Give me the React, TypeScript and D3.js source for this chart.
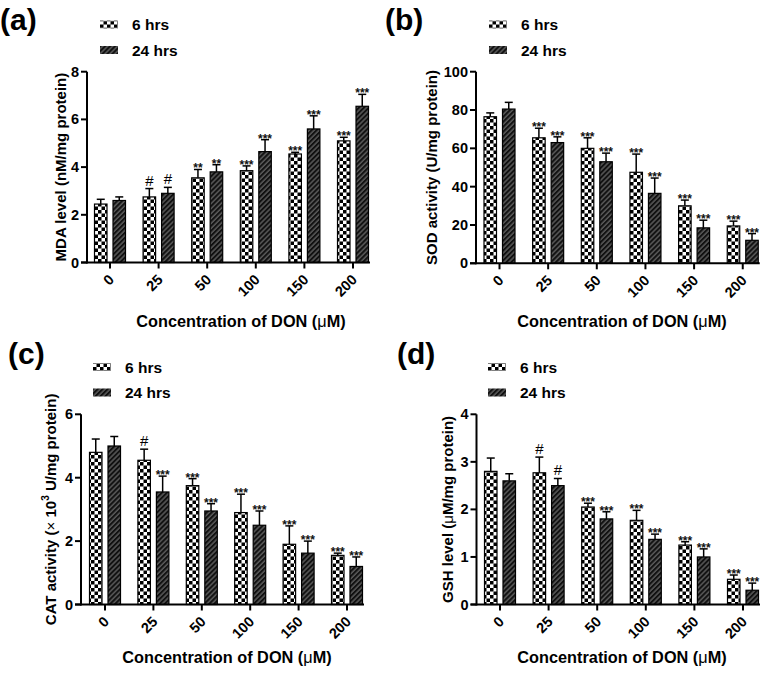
import React from "react";
import * as d3 from "d3";

const categories = ["0", "25", "50", "100", "150", "200"];
const seriesNames = ["6 hrs", "24 hrs"];

// (a) MDA
const mda6 = [2.45, 2.75, 3.55, 3.85, 4.55, 5.1];
const mda6Sd = [0.2, 0.35, 0.35, 0.2, 0.07, 0.15];
const mda24 = [2.6, 2.9, 3.8, 4.65, 5.6, 6.55];
const mda24Sd = [0.15, 0.25, 0.3, 0.5, 0.55, 0.5];
const mda6Sig = ["", "#", "**", "***", "***", "***"];
const mda24Sig = ["", "#", "**", "***", "***", "***"];
const mdaTicks = [0, 2, 4, 6, 8];

// (b) SOD
const sod6 = [76.5, 65.5, 60, 47.5, 30, 19.5];
const sod6Sd = [2, 5, 5.5, 9.5, 3, 2.5];
const sod24 = [80.5, 63, 53, 36.5, 18.5, 12];
const sod24Sd = [3.5, 3, 4.5, 8, 4, 3.5];
const sod6Sig = ["", "***", "***", "***", "***", "***"];
const sod24Sig = ["", "***", "***", "***", "***", "***"];
const sodTicks = [0, 20, 40, 60, 80, 100];

// (c) CAT
const cat6 = [4.8, 4.55, 3.75, 2.9, 1.9, 1.55];
const cat6Sd = [0.42, 0.35, 0.22, 0.58, 0.58, 0.07];
const cat24 = [5.0, 3.55, 2.95, 2.5, 1.62, 1.2];
const cat24Sd = [0.3, 0.5, 0.23, 0.45, 0.38, 0.3];
const cat6Sig = ["", "#", "***", "***", "***", "***"];
const cat24Sig = ["", "***", "***", "***", "***", "***"];
const catTicks = [0, 2, 4, 6];

// (d) GSH
const gsh6 = [2.8, 2.77, 2.05, 1.77, 1.25, 0.53];
const gsh6Sd = [0.28, 0.33, 0.08, 0.21, 0.07, 0.09];
const gsh24 = [2.6, 2.5, 1.8, 1.37, 1.0, 0.3];
const gsh24Sd = [0.15, 0.15, 0.15, 0.11, 0.17, 0.15];
const gsh6Sig = ["", "#", "***", "***", "***", "***"];
const gsh24Sig = ["", "#", "***", "***", "***", "***"];
const gshTicks = [0, 1, 2, 3, 4];

const FONT = "'Liberation Sans', Arial, sans-serif";

type PanelProps = {
  label: string;
  yTitle: React.ReactNode;
  ticks: number[];
  v6: number[];
  sd6: number[];
  v24: number[];
  sd24: number[];
  sig6: string[];
  sig24: string[];
  layout: {
    axisLeft: number;
    center0: number;
    step: number;
    yTop: number;
    yBottom: number;
    yTitleX: number;
    labelX: number;
    labelY: number;
    legendX: number;
    legendY: number;
    xTitleY: number;
    xTitleX: number;
  };
};

function Panel(p: PanelProps) {
  const L = p.layout;
  const x = d3
    .scalePoint<string>()
    .domain(categories)
    .range([L.center0, L.center0 + L.step * (categories.length - 1)]);
  const yMax = p.ticks[p.ticks.length - 1];
  const y = d3.scaleLinear().domain([0, yMax]).range([L.yBottom, L.yTop]);
  const axisRight = L.center0 + L.step * (categories.length - 1) + 17;
  const barW = 12.5;
  const gap = 3;
  const series = [
    { v: p.v6, sd: p.sd6, sig: p.sig6, fill: "url(#checker)", off: -gap - barW },
    { v: p.v24, sd: p.sd24, sig: p.sig24, fill: "url(#hatch)", off: gap },
  ];
  return (
    <g>
      <text x={L.labelX} y={L.labelY} fontFamily={FONT} fontWeight="bold" fontSize={30}>
        {p.label}
      </text>
      {/* legend */}
      {seriesNames.map((n, i) => (
        <g key={n} transform={`translate(${L.legendX},${L.legendY + i * 25.5})`}>
          <rect x={0} y={-4} width={18} height={8} fill={i === 0 ? "url(#checker)" : "url(#hatch)"} />
          <text x={32} y={5.5} fontFamily={FONT} fontWeight="bold" fontSize={15.5}>
            {n}
          </text>
        </g>
      ))}
      {/* bars */}
      {series.map((s, si) =>
        categories.map((c, i) => {
          const cx = (x(c) as number) + s.off;
          const top = y(s.v[i]);
          const et = y(s.v[i] + s.sd[i]);
          const mid = cx + barW / 2;
          const sig = s.sig[i];
          return (
            <g key={`${si}-${c}`}>
              <line x1={mid} x2={mid} y1={top} y2={et} stroke="#000" strokeWidth={1.5} />
              <line x1={mid - 4} x2={mid + 4} y1={et} y2={et} stroke="#000" strokeWidth={1.5} />
              <rect
                x={cx}
                y={top}
                width={barW}
                height={L.yBottom - top}
                fill={s.fill}
                stroke="#000"
                strokeWidth={1.2}
              />
              {sig === "#" ? (
                <text x={mid} y={et - 3} textAnchor="middle" fontFamily={FONT} fontSize={15}>
                  #
                </text>
              ) : sig ? (
                <text
                  x={mid}
                  y={et - 2 + 5}
                  textAnchor="middle"
                  fontFamily={FONT}
                  fontWeight="bold"
                  fill="#111"
                  fontSize={12}
                >
                  {sig}
                </text>
              ) : null}
            </g>
          );
        })
      )}
      {/* y axis */}
      <line x1={L.axisLeft} x2={L.axisLeft} y1={L.yTop} y2={L.yBottom + 1} stroke="#000" strokeWidth={2} />
      {p.ticks.map((t) => (
        <g key={t}>
          <line x1={L.axisLeft - 6} x2={L.axisLeft} y1={y(t)} y2={y(t)} stroke="#000" strokeWidth={2} />
          <text
            x={L.axisLeft - 8}
            y={y(t) + 5}
            textAnchor="end"
            fontFamily={FONT}
            fontWeight="bold"
            fontSize={14.5}
          >
            {t}
          </text>
        </g>
      ))}
      {/* x axis */}
      <line x1={L.axisLeft - 6} x2={axisRight} y1={L.yBottom} y2={L.yBottom} stroke="#000" strokeWidth={2} />
      {categories.map((c) => {
        const cx = x(c) as number;
        return (
          <g key={c}>
            <line x1={cx} x2={cx} y1={L.yBottom} y2={L.yBottom + 6} stroke="#000" strokeWidth={2} />
            <text
              transform={`translate(${cx + 5},${L.yBottom + 18}) rotate(-45)`}
              textAnchor="end"
              fontFamily={FONT}
              fontWeight="bold"
              fontSize={14.5}
            >
              {c}
            </text>
          </g>
        );
      })}
      <text x={L.xTitleX} y={L.xTitleY} textAnchor="middle" fontFamily={FONT} fontWeight="bold" fontSize={16.3}>
        Concentration of DON (
        <tspan fontWeight="normal">μ</tspan>M)
      </text>
      <text
        transform={`translate(${L.yTitleX},${(L.yTop + L.yBottom) / 2}) rotate(-90)`}
        textAnchor="middle"
        dominantBaseline="middle"
        fontFamily={FONT}
        fontWeight="bold"
        fontSize={15}
      >
        {p.yTitle}
      </text>
    </g>
  );
}

export default function App() {
  return (
    <svg width={767} height={673} style={{ position: "absolute", left: 0, top: 0, background: "#fff" }}>
      <defs>
        <pattern id="checker" patternUnits="userSpaceOnUse" width={7} height={7}>
          <rect width={7} height={7} fill="#fff" />
          <rect x={0} y={0} width={3.5} height={3.5} fill="#000" />
          <rect x={3.5} y={3.5} width={3.5} height={3.5} fill="#000" />
        </pattern>
        <pattern
          id="hatch"
          patternUnits="userSpaceOnUse"
          width={3.5}
          height={3.5}
          patternTransform="rotate(45)"
        >
          <rect width={3.5} height={3.5} fill="#5a5a5a" />
          <rect x={0} y={0} width={2} height={3.5} fill="#111" />
        </pattern>
      </defs>
      <rect width={767} height={673} fill="#fff" />
      <Panel
        label="(a)"
        yTitle="MDA level (nM/mg protein)"
        ticks={mdaTicks}
        v6={mda6}
        sd6={mda6Sd}
        v24={mda24}
        sd24={mda24Sd}
        sig6={mda6Sig}
        sig24={mda24Sig}
        layout={{
          axisLeft: 87, center0: 110, step: 48.6, yTop: 71.7, yBottom: 262.5,
          yTitleX: 62, labelX: 0, labelY: 30, legendX: 100, legendY: 24.5,
          xTitleY: 327, xTitleX: 241,
        }}
      />
      <Panel
        label="(b)"
        yTitle="SOD activity (U/mg protein)"
        ticks={sodTicks}
        v6={sod6}
        sd6={sod6Sd}
        v24={sod24}
        sd24={sod24Sd}
        sig6={sod6Sig}
        sig24={sod24Sig}
        layout={{
          axisLeft: 476, center0: 499.5, step: 48.65, yTop: 71.7, yBottom: 263.3,
          yTitleX: 433, labelX: 385, labelY: 30, legendX: 489, legendY: 24.5,
          xTitleY: 327, xTitleX: 622,
        }}
      />
      <Panel
        label="(c)"
        yTitle={
          <>
            CAT activity (
            <tspan fontWeight="normal">×</tspan> 10
            <tspan dy={-6} fontSize={10}>3</tspan>
            <tspan dy={6}> U/mg protein)</tspan>
          </>
        }
        ticks={catTicks}
        v6={cat6}
        sd6={cat6Sd}
        v24={cat24}
        sd24={cat24Sd}
        sig6={cat6Sig}
        sig24={cat24Sig}
        layout={{
          axisLeft: 81, center0: 105, step: 48.4, yTop: 414.3, yBottom: 604.5,
          yTitleX: 52, labelX: 8, labelY: 364, legendX: 93, legendY: 367,
          xTitleY: 663, xTitleX: 227,
        }}
      />
      <Panel
        label="(d)"
        yTitle={
          <>
            GSH level (<tspan fontWeight="normal">μ</tspan>M/mg protein)
          </>
        }
        ticks={gshTicks}
        v6={gsh6}
        sd6={gsh6Sd}
        v24={gsh24}
        sd24={gsh24Sd}
        sig6={gsh6Sig}
        sig24={gsh24Sig}
        layout={{
          axisLeft: 476.5, center0: 500, step: 48.6, yTop: 414.3, yBottom: 604.5,
          yTitleX: 449, labelX: 397, labelY: 364, legendX: 488, legendY: 367,
          xTitleY: 663, xTitleX: 622,
        }}
      />
    </svg>
  );
}
